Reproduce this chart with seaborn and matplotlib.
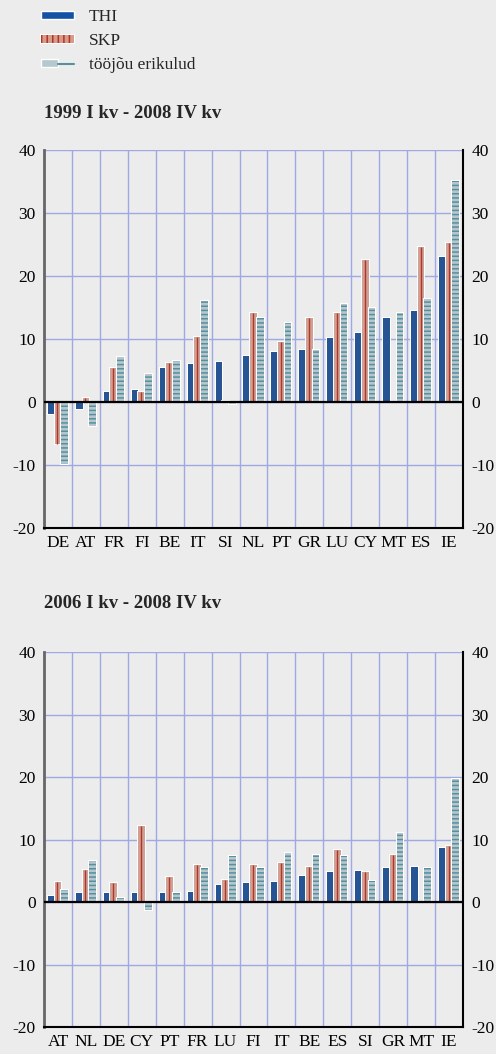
import numpy as np
import pandas as pd
import matplotlib
matplotlib.use("Agg")
import matplotlib.pyplot as plt
import matplotlib.patheffects as pe
from matplotlib.patches import Patch
from matplotlib.lines import Line2D
from matplotlib.legend_handler import HandlerTuple
from matplotlib.ticker import FixedLocator
import seaborn as sns

# ==========================================
# DATA
# ==========================================
SERIES = ["THI", "SKP", "tööjõu erikulud"]

countries_a = ["DE", "AT", "FR", "FI", "BE", "IT", "SI", "NL", "PT", "GR", "LU", "CY", "MT", "ES", "IE"]
thi_a = [-1.9, -1.1, 1.6, 1.9, 5.4, 6.0, 6.3, 7.3, 7.9, 8.2, 10.1, 10.9, 13.3, 14.4, 23.0]
skp_a = [-6.6, 0.6, 5.4, 1.6, 6.2, 10.3, 0.1, 14.1, 9.5, 13.4, 14.1, 22.5, 0.0, 24.6, 25.2]
lab_a = [-9.9, -3.8, 7.2, 4.4, 6.5, 16.0, -0.4, 13.4, 12.5, 8.2, 15.5, 14.9, 14.1, 16.3, 35.1]

countries_b = ["AT", "NL", "DE", "CY", "PT", "FR", "LU", "FI", "IT", "BE", "ES", "SI", "GR", "MT", "IE"]
thi_b = [0.9, 1.4, 1.4, 1.4, 1.4, 1.6, 2.7, 3.0, 3.2, 4.1, 4.8, 4.9, 5.4, 5.6, 8.6]
skp_b = [3.2, 5.2, 3.0, 12.2, 4.0, 6.0, 3.5, 6.0, 6.2, 5.6, 8.4, 4.8, 7.6, 0.0, 8.9]
lab_b = [1.9, 6.6, 0.6, -1.2, 1.4, 5.4, 7.3, 5.4, 7.9, 7.6, 7.3, 3.3, 11.0, 5.4, 19.7]

TITLES = ["1999 I kv - 2008 IV kv", "2006 I kv - 2008 IV kv"]
Y_TICKS = [-20, -10, 0, 10, 20, 30, 40]

# ==========================================
# STYLE
# ==========================================
BG = "#ececec"
GRID = "#9ea8e2"
C_THI = "#1552a6"
C_SKP = "#d99b89"
C_SKP_LINE = "#b0352a"
C_LAB = "#b3c8cf"
C_LAB_LINE = "#55909e"
FONT = ["Liberation Serif", "DejaVu Serif"]

sns.set_theme(style="white")
plt.rcParams["font.family"] = FONT
plt.rcParams["axes.unicode_minus"] = False
plt.rcParams["hatch.linewidth"] = 1.1


def long_frame(countries, thi, skp, lab):
    rows = []
    for c, a, b, d in zip(countries, thi, skp, lab):
        rows.append((c, SERIES[0], a))
        rows.append((c, SERIES[1], b))
        rows.append((c, SERIES[2], d))
    return pd.DataFrame(rows, columns=["country", "series", "value"])


def draw_panel(ax, df, order):
    ax.set_facecolor(BG)
    sns.barplot(data=df, x="country", y="value", hue="series", order=order,
                hue_order=SERIES, palette=[C_THI, C_SKP, C_LAB], width=0.72,
                errorbar=None, legend=False, ax=ax, zorder=3)
    white = [pe.withStroke(linewidth=1.4, foreground="white")]
    for cont, name in zip(ax.containers, SERIES):
        for p in cont.patches:
            p.set_linewidth(0)
            p.set_path_effects(white)
            if name == "SKP":
                # thin red stripe inside each salmon bar
                x = p.get_x() + p.get_width() * 0.42
                y0 = p.get_y()
                ax.plot([x, x], [y0, y0 + p.get_height()], color=C_SKP_LINE,
                        lw=1.0, zorder=4, solid_capstyle="butt")
            elif name == "tööjõu erikulud":
                p.set_edgecolor(C_LAB_LINE)
                p.set_hatch("----")

    n = len(order)
    ax.set_xlim(-0.5, n - 0.5)
    ax.set_ylim(-20, 40)
    ax.set_yticks(Y_TICKS)
    ax.set_xlabel("")
    ax.set_ylabel("")

    # grid: horizontal at major y, vertical at category boundaries
    for y in Y_TICKS[1:]:
        ax.axhline(y, color=GRID, lw=1.0, zorder=1)
    for k in range(1, n):
        ax.axvline(k - 0.5, color=GRID, lw=1.0, zorder=1)
    ax.axhline(0, color="black", lw=1.6, zorder=5)

    ax.xaxis.set_minor_locator(FixedLocator(np.arange(-0.5, n, 1.0)))
    ax.tick_params(axis="x", which="major", length=0, pad=5, labelsize=12.5, colors="black")
    ax.tick_params(axis="x", which="minor", length=4, width=1.5, direction="out", color="black")
    ax.tick_params(axis="y", length=0, labelsize=12.5, pad=6, labelleft=True,
                   labelright=True, colors="black")

    ax.spines["top"].set_visible(False)
    ax.spines["left"].set_color("#666666")
    ax.spines["left"].set_linewidth(2.0)
    ax.spines["right"].set_color("black")
    ax.spines["right"].set_linewidth(1.5)
    ax.spines["bottom"].set_color("black")
    ax.spines["bottom"].set_linewidth(1.5)


fig = plt.figure(figsize=(4.96, 10.54), dpi=100)
fig.patch.set_facecolor(BG)

ax1 = fig.add_axes([0.0887, 0.4991, 0.8448, 0.3586])
ax2 = fig.add_axes([0.0887, 0.0256, 0.8448, 0.3558])

draw_panel(ax1, long_frame(countries_a, thi_a, skp_a, lab_a), countries_a)
draw_panel(ax2, long_frame(countries_b, thi_b, skp_b, lab_b), countries_b)

fig.text(0.089, 1 - 113 / 1054, TITLES[0], fontsize=13.5, fontweight="bold",
         va="center", ha="left", family=FONT)
fig.text(0.089, 1 - 604 / 1054, TITLES[1], fontsize=13.5, fontweight="bold",
         va="center", ha="left", family=FONT)

# legend
white = [pe.withStroke(linewidth=1.4, foreground="white")]
h_thi = Patch(facecolor=C_THI, edgecolor="white", linewidth=1.0)
h_skp = Patch(facecolor=C_SKP, edgecolor=C_SKP_LINE, hatch="|||", linewidth=0)
h_skp.set_path_effects(white)
h_lab = (Patch(facecolor=C_LAB, edgecolor="white", linewidth=1.0),
         Line2D([], [], color=C_LAB_LINE, lw=1.5))
leg = fig.legend([h_thi, h_skp, h_lab], SERIES, loc="upper left",
                 bbox_to_anchor=(0.062, 1.001), frameon=False,
                 handlelength=1.9, handleheight=0.35, labelspacing=0.46,
                 handletextpad=0.85, borderpad=0.1,
                 handler_map={tuple: HandlerTuple(ndivide=None, pad=0)},
                 prop={"family": FONT, "size": 12.5})

fig.savefig("out.png", dpi=100, facecolor=BG)
